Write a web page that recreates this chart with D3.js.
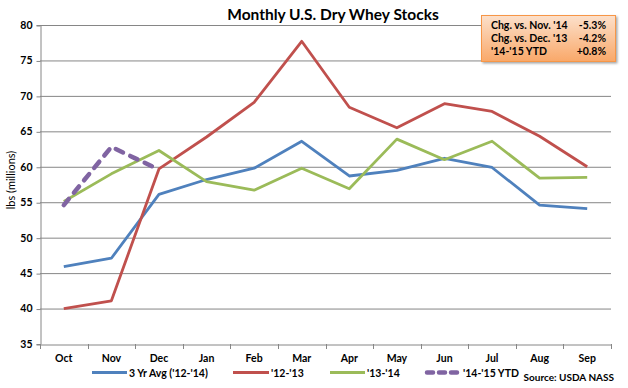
<!DOCTYPE html>
<html><head><meta charset="utf-8">
<script src="https://cdn.jsdelivr.net/npm/d3@7"></script>
<style>
body{margin:0;background:#fff;}
text{font-family:Lato,"Liberation Sans",sans-serif;fill:#000;}
</style></head>
<body><svg id="c" width="628" height="388"></svg>
<script>
const months = ["Oct","Nov","Dec","Jan","Feb","Mar","Apr","May","Jun","Jul","Aug","Sep"];
const avg3yr = [45.9,47.1,56.1,58.2,59.8,63.6,58.7,59.5,61.2,59.9,54.6,54.1];
const s1213 = [40.0,41.1,59.7,64.2,69.1,77.7,68.4,65.5,68.9,67.8,64.3,60.0];
const s1314 = [55.1,59.0,62.3,57.9,56.7,59.8,56.9,63.9,61.0,63.6,58.4,58.5];
const s1415 = [54.6,62.8,59.6];
const yTicks = [35,40,45,50,55,60,65,70,75,80];
const seriesNames = ["3 Yr Avg ('12-'14)","'12-'13","'13-'14","'14-'15 YTD"];
const boxLabels = ["Chg. vs. Nov. '14","Chg. vs. Dec. '13","'14-'15 YTD"];
const boxValues = ["-5.3%","-4.2%","+0.8%"];

const svg = d3.select("#c");
const L=40, R=611, T=25, B=344;
const x = d3.scaleBand().domain(months).range([L,R]);
const y = d3.scaleLinear().domain([35,80]).range([B,T]);
const cx = m => x(m)+x.bandwidth()/2;

// gridlines
svg.append("g").selectAll("line").data(yTicks.filter(v=>v>35)).join("line")
  .attr("x1",L).attr("x2",R).attr("y1",d=>y(d)+0.5).attr("y2",d=>y(d)+0.5)
  .attr("stroke","#868686").attr("stroke-width",1);

// y axis
const ya = svg.append("g").attr("transform",`translate(${L+0.5},0)`)
  .call(d3.axisLeft(y).tickValues(yTicks).tickSize(4).tickPadding(4));
ya.select(".domain").attr("stroke","#868686");
ya.selectAll(".tick line").attr("stroke","#868686").attr("transform","translate(0,0.5)");
ya.selectAll("text").attr("font-size","10.5px").attr("font-weight","bold").attr("fill","#000").attr("font-family","Lato,sans-serif");

// x axis
const xa = svg.append("g").attr("transform",`translate(0,${B+0.5})`)
  .call(d3.axisBottom(x).tickSize(0).tickPadding(10));
xa.select(".domain").attr("stroke","#868686");
xa.selectAll("text").attr("font-size","10.5px").attr("font-weight","bold").attr("fill","#000").attr("font-family","Lato,sans-serif");
svg.append("g").selectAll("line").data(d3.range(months.length+1)).join("line")
  .attr("x1",i=>Math.round(L+i*x.bandwidth())+0.5).attr("x2",i=>Math.round(L+i*x.bandwidth())+0.5)
  .attr("y1",B).attr("y2",B+5).attr("stroke","#868686");

const line = d3.line().x((d,i)=>cx(months[i])).y(d=>y(d));
const series = [
  {v:avg3yr,c:"#4F81BD"},
  {v:s1213,c:"#C0504D"},
  {v:s1314,c:"#9BBB59"}
];
series.forEach(s=>{
  svg.append("path").attr("d",line(s.v)).attr("fill","none").attr("stroke",s.c)
    .attr("stroke-width",2.8).attr("stroke-linejoin","round");
});
svg.append("path").attr("d",line(s1415)).attr("fill","none").attr("stroke","#8064A2")
  .attr("stroke-width",4.5).attr("stroke-dasharray","8,8").attr("stroke-linecap","round").attr("stroke-linejoin","round");

// title
svg.append("text").attr("x",333).attr("y",20).attr("text-anchor","middle")
  .attr("font-size","15.5px").attr("font-weight","bold").text("Monthly U.S. Dry Whey Stocks");

// y label
svg.append("text").attr("transform","translate(15,180) rotate(-90)").attr("text-anchor","middle")
  .attr("font-size","11px").text("lbs (millions)");

// legend
const leg = [
  {x1:92,x2:127,c:"#4F81BD",dash:null,w:3},
  {x1:233,x2:269,c:"#C0504D",dash:null,w:3},
  {x1:330,x2:365,c:"#9BBB59",dash:null,w:3},
  {x1:427,x2:461,c:"#8064A2",dash:"6,6",w:4.5}
];
leg.forEach((l,i)=>{
  const ln = svg.append("line").attr("x1",l.x1).attr("x2",l.x2).attr("y1",372.5).attr("y2",372.5)
    .attr("stroke",l.c).attr("stroke-width",l.w);
  if(l.dash) ln.attr("stroke-dasharray",l.dash).attr("stroke-linecap","round");
  svg.append("text").attr("x",l.x2+2).attr("y",376.5).attr("font-size","10.5px").attr("font-weight","bold").text(seriesNames[i]);
});
svg.append("text").attr("x",614).attr("y",381).attr("text-anchor","end").attr("font-size","10px").attr("font-weight","bold").text("Source: USDA NASS");

// info box
const defs = svg.append("defs");
const g = defs.append("linearGradient").attr("id","og").attr("x1",0).attr("y1",0).attr("x2",0).attr("y2",1);
g.append("stop").attr("offset","0%").attr("stop-color","#FCE0CB");
g.append("stop").attr("offset","100%").attr("stop-color","#F9A869");
const f = defs.append("filter").attr("id","sh").attr("x","-10%").attr("y","-10%").attr("width","130%").attr("height","140%");
f.append("feDropShadow").attr("dx",1.5).attr("dy",1.5).attr("stdDeviation",1.2).attr("flood-color","#000").attr("flood-opacity",0.35);
svg.append("rect").attr("x",481.5).attr("y",15.5).attr("width",134).attr("height",46)
  .attr("fill","url(#og)").attr("stroke","#F79646").attr("stroke-width",1).attr("filter","url(#sh)");
boxLabels.forEach((t,i)=>{
  svg.append("text").attr("x",491).attr("y",28.5+i*13).attr("font-size","10.5px").attr("font-weight","bold").text(t);
  svg.append("text").attr("x",606).attr("y",28.5+i*13).attr("text-anchor","end").attr("font-size","10.5px").attr("font-weight","bold").text(boxValues[i]);
});
</script></body></html>
